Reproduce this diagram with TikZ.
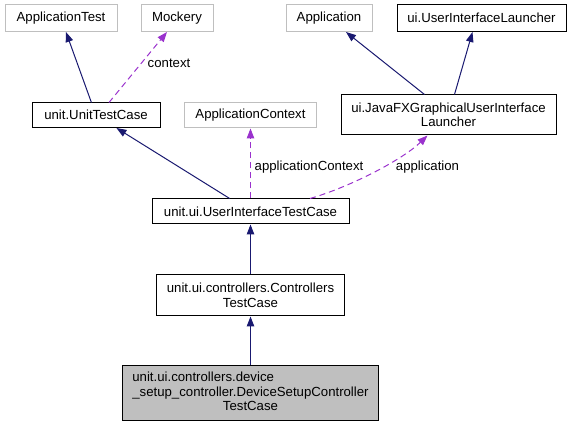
\documentclass[tikz,border=0pt]{standalone}
\usepackage{fontspec}
\setmainfont{Liberation Sans}
\usetikzlibrary{arrows.meta}
\definecolor{navy}{HTML}{191970}
\definecolor{dorchid}{HTML}{9A32CD}
\definecolor{gborder}{HTML}{BFBFBF}
\definecolor{gfill}{HTML}{BFBFBF}
\tikzset{
  box/.style={draw=black, line width=1pt, fill=white, inner sep=0pt, align=center,
    font=\fontsize{13.2}{14.5}\selectfont},
  extbox/.style={box, draw=gborder},
  focusbox/.style={box, fill=gfill},
  inh/.style={draw=navy, line width=1pt, -{Triangle[length=10pt,width=7.5pt]}},
  dep/.style={draw=dorchid, line width=1pt, dash pattern=on 6pt off 4pt,
    -{Triangle[length=10pt,width=7.5pt]}},
  lbl/.style={inner sep=0pt, font=\fontsize{13.2}{14.5}\selectfont}
}
\begin{document}
\begin{tikzpicture}[x=1pt,y=-1pt]
\useasboundingbox (0,0) rectangle (571,427);
% top row
\node[extbox, minimum width=112pt, minimum height=26.5pt] (apptest) at (61,18.25) {ApplicationTest};
\node[extbox, minimum width=72pt, minimum height=26.5pt] (mock) at (177,18.25) {Mockery};
\node[extbox, minimum width=86pt, minimum height=26.5pt] (app) at (329,18.25) {Application};
\node[box, minimum width=169pt, minimum height=26.5pt] (uil) at (481.5,18.25) {ui.UserInterfaceLauncher};
% second row
\node[box, minimum width=128pt, minimum height=24.5pt] (utc) at (96,115.25) {unit.UnitTestCase};
\node[extbox, minimum width=132pt, minimum height=25pt] (actx) at (250.5,115.5) {ApplicationContext};
\node[box, minimum width=215pt, minimum height=40pt] (jfx) at (448.5,115) {ui.JavaFXGraphicalUserInterface\\Launcher};
% lower chain
\node[box, minimum width=197pt, minimum height=25pt] (uitc) at (250.5,211.5) {unit.ui.UserInterfaceTestCase};
\node[box, minimum width=188pt, minimum height=41pt] (ctc) at (250.5,295.5) {unit.ui.controllers.Controllers\\TestCase};
\node[focusbox, minimum width=256pt, minimum height=55pt] (dsc) at (250.5,393.5)
  {\begin{tabular}{@{}l@{}}unit.ui.controllers.device\\\_setup\_controller.DeviceSetupController\\\multicolumn{1}{@{}c@{}}{TestCase}\end{tabular}};
% inheritance
\draw[inh] (utc) -- (apptest);
\draw[inh] (uitc) -- (utc);
\draw[inh] ([xshift=-24pt]jfx.north) -- ([xshift=17pt]app.south);
\draw[inh] ([xshift=6pt]jfx.north) -- ([xshift=-9pt]uil.south);
\draw[inh] (ctc) -- (uitc);
\draw[inh] (dsc) -- (ctc);
% usage
\draw[dep] ([xshift=13pt]utc.north) -- ([xshift=-10pt]mock.south);
\draw[dep] (uitc.north -| actx.south) -- (actx.south);
\draw[dep] ([xshift=59.5pt]uitc.north) .. controls (350,187) and (402,160) .. ([xshift=-21pt]jfx.south);
% labels
\node[lbl] (lctx) at (169,63) {context};
\node[lbl] (lactx) at (309,167) {applicationContext};
\node[lbl] (lapp) at (427.5,167) {application};
\end{tikzpicture}
\end{document}
